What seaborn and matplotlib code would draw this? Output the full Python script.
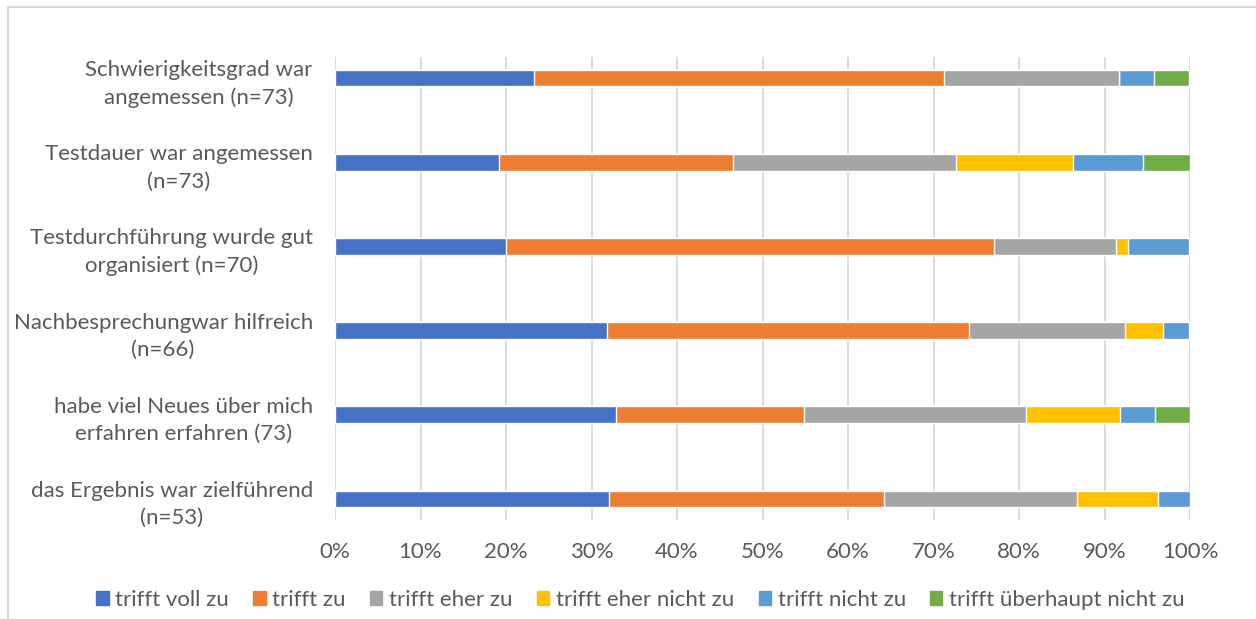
import matplotlib.pyplot as plt
import matplotlib.patches as mpatches
import seaborn as sns
import pandas as pd

# ----------------------------
# Data (percent of answers per statement)
# ----------------------------
statements = [
    "Schwierigkeitsgrad war\nangemessen (n=73)",
    "Testdauer war angemessen\n(n=73)",
    "Testdurchführung wurde gut\norganisiert (n=70)",
    "Nachbesprechungwar hilfreich\n(n=66)",
    "habe viel Neues über mich\nerfahren erfahren (73)",
    "das Ergebnis war zielführend\n(n=53)",
]
answers = ["trifft voll zu", "trifft zu", "trifft eher zu",
           "trifft eher nicht zu", "trifft nicht zu", "trifft überhaupt nicht zu"]

voll_zu = [23.3, 19.2, 20.0, 31.8, 32.9, 32.1]
zu = [47.9, 27.4, 57.1, 42.4, 21.9, 32.1]
eher_zu = [20.5, 26.0, 14.3, 18.2, 26.0, 22.6]
eher_nicht_zu = [0.0, 13.7, 1.4, 4.5, 11.0, 9.4]
nicht_zu = [4.1, 8.2, 7.1, 3.0, 4.1, 3.8]
ueberhaupt_nicht_zu = [4.1, 5.5, 0.0, 0.0, 4.1, 0.0]

colors = ["#4472C4", "#ED7D31", "#A5A5A5", "#FFC000", "#5B9BD5", "#70AD47"]
text_col = "#595959"

series = [voll_zu, zu, eher_zu, eher_nicht_zu, nicht_zu, ueberhaupt_nicht_zu]
rows = []
for ans, vals in zip(answers, series):
    for st, v in zip(statements, vals):
        rows.append({"statement": st, "answer": ans, "pct": v})
df = pd.DataFrame(rows)
df["answer"] = pd.Categorical(df["answer"], categories=answers, ordered=True)
df = df.sort_values(["statement", "answer"])
df["cum"] = df.groupby("statement")["pct"].cumsum()

# ----------------------------
# Plot
# ----------------------------
sns.set_style("white")
plt.rcParams["font.family"] = ["Lato", "DejaVu Sans"]

fig = plt.figure(figsize=(12.56, 6.19), dpi=100)
ax = fig.add_axes([335 / 1256, 1 - 520 / 619, (1190 - 335) / 1256, (520 - 57) / 619])

# stacked bars: draw the cumulative sums from the last answer backwards
for ans, col in reversed(list(zip(answers, colors))):
    sub = df[df["answer"] == ans]
    sns.barplot(data=sub, x="cum", y="statement", order=statements, color=col,
                width=0.2, orient="h", saturation=1, ax=ax, zorder=3)

ax.set_xlim(0, 100)
ax.set_ylim(5.25, -0.25)
ax.set_xticks(range(0, 101, 10))
ax.set_xticklabels([f"{t}%" for t in range(0, 101, 10)])
ax.grid(axis="x", color="#D9D9D9", linewidth=1.4, zorder=0)
ax.set_axisbelow(True)
for s in ax.spines.values():
    s.set_visible(False)
ax.set_xlabel("")
ax.set_ylabel("")
ax.tick_params(axis="x", length=0, pad=16, labelsize=16, labelcolor=text_col)
ax.tick_params(axis="y", length=0, pad=16, labelsize=16, labelcolor=text_col)
for lbl in ax.get_yticklabels():
    lbl.set_multialignment("center")
    lbl.set_linespacing(1.45)

handles = [mpatches.Patch(color=c, label=a) for a, c in zip(answers, colors)]
fig.legend(handles=handles, loc="center", bbox_to_anchor=(0.51, 1 - 600 / 619),
           ncol=6, frameon=False, fontsize=16, labelcolor=text_col,
           handlelength=0.55, handleheight=0.55, handletextpad=0.3, columnspacing=1.1)

# chart area border
fig.add_artist(mpatches.Rectangle((8 / 1256, -0.05), 1.1, 1 - 7 / 619 + 0.05,
                                  transform=fig.transFigure, fill=False,
                                  edgecolor="#D9D9D9", linewidth=1.5))

plt.savefig("out.png", dpi=100)
plt.close()
